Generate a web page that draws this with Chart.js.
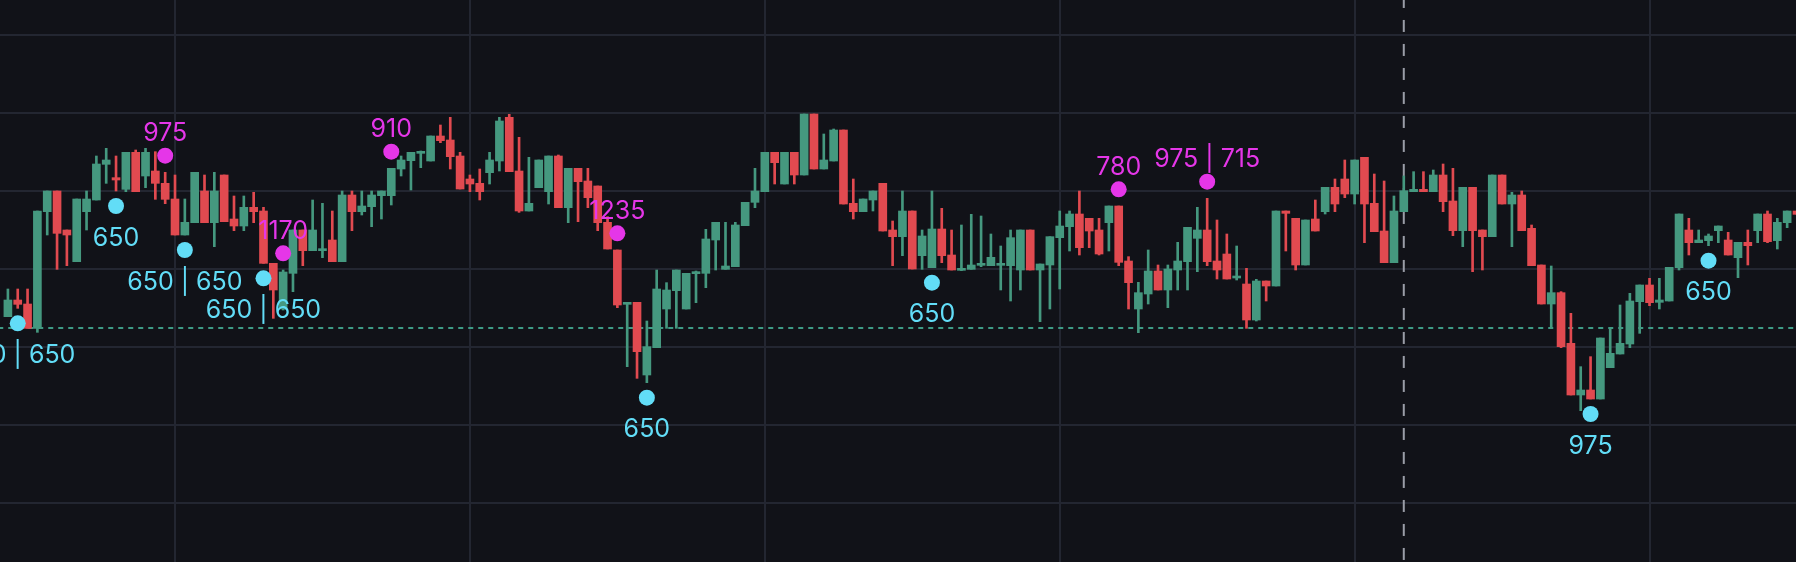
<!DOCTYPE html>
<html>
<head>
<meta charset="utf-8">
<title>Candles</title>
<script src="https://cdn.jsdelivr.net/npm/chart.js@4.4.1/dist/chart.umd.min.js"></script>
<style>
  html, body { margin: 0; padding: 0; background: #111218; overflow: hidden; }
  #wrap { width: 1796px; height: 562px; }
</style>
</head>
<body>
<div id="wrap"><canvas id="chart" width="1796" height="562"></canvas></div>
<script>
// one value per bar, bar 0 is the left edge
const opens = [
  65.0, 70.0, 68.8, 61.5, 96.5, 102.7, 91.0, 81.5, 96.5, 100.0,
  110.7, 106.7, 103.2, 114.3, 107.2, 108.7, 105.0, 100.3, 89.5, 93.2,
  102.7, 93.2, 107.5, 94.3, 92.2, 97.8, 96.7, 81.0, 67.3, 78.0,
  91.0, 84.8, 84.8, 88.0, 81.5, 101.5, 96.5, 98.0, 101.3, 101.3,
  109.3, 111.8, 114.0, 111.7, 119.2, 118.0, 113.2, 106.3, 105.0, 108.2,
  111.7, 124.8, 108.7, 96.7, 103.7, 102.5, 113.2, 97.7, 109.5, 105.7,
  104.2, 93.3, 85.0, 68.7, 69.3, 47.5, 55.7, 67.3, 72.8, 67.3,
  77.9, 78.0, 88.0, 79.2, 80.0, 92.3, 99.3, 102.5, 114.3, 104.8,
  114.3, 107.5, 125.8, 109.3, 111.7, 121.0, 99.0, 96.5, 100.0, 105.0,
  91.0, 89.0, 96.7, 83.3, 79.7, 91.3, 83.5, 78.9, 79.2, 80.4,
  80.3, 80.4, 80.3, 79.0, 91.0, 79.0, 80.5, 88.7, 92.0, 95.8,
  94.5, 91.0, 93.2, 98.2, 81.7, 67.3, 71.8, 78.7, 73.0, 79.0,
  81.5, 88.5, 91.0, 81.7, 83.8, 76.6, 74.8, 64.0, 75.7, 74.2,
  96.7, 94.5, 80.5, 94.3, 96.5, 103.8, 106.3, 101.8, 112.8, 99.0,
  90.7, 81.2, 96.5, 102.5, 103.2, 102.5, 107.5, 99.7, 90.8, 103.8,
  91.0, 89.0, 107.5, 98.8, 101.5, 91.5, 80.5, 68.8, 72.2, 57.0,
  41.5, 43.0, 40.3, 49.7, 53.8, 56.8, 69.5, 74.5, 69.3, 69.7,
  79.7, 91.0, 87.2, 87.8, 90.8, 88.0, 82.7, 87.3, 90.8, 95.8,
  87.8, 93.2, 96.7
];
const highs = [
  73.3, 73.3, 73.3, 96.7, 102.7, 102.7, 91.0, 100.3, 102.7, 113.2,
  115.5, 113.2, 114.3, 115.0, 115.5, 114.5, 108.3, 107.5, 100.3, 108.3,
  107.5, 108.3, 107.5, 101.2, 101.2, 102.3, 97.8, 81.0, 79.0, 91.0,
  91.0, 100.0, 99.0, 96.7, 102.7, 102.7, 102.7, 102.7, 102.7, 109.5,
  113.2, 114.3, 114.7, 119.2, 122.5, 124.8, 114.3, 107.5, 109.3, 114.3,
  124.8, 125.7, 118.8, 112.8, 112.0, 113.2, 113.5, 109.5, 109.5, 109.5,
  104.2, 95.0, 85.0, 69.3, 69.3, 63.7, 79.0, 75.2, 79.0, 78.0,
  78.7, 91.2, 93.3, 93.3, 93.3, 99.3, 109.5, 114.3, 114.3, 114.3,
  114.3, 125.8, 125.8, 119.8, 121.3, 121.0, 106.3, 100.3, 102.7, 105.0,
  93.7, 102.7, 96.7, 91.0, 102.7, 97.5, 91.0, 92.5, 95.7, 95.2,
  89.8, 86.2, 91.0, 91.0, 91.0, 80.8, 89.0, 96.7, 96.7, 102.7,
  94.5, 94.5, 98.2, 98.2, 83.0, 75.3, 85.0, 80.5, 80.5, 87.3,
  91.8, 97.8, 100.5, 94.0, 89.8, 86.2, 79.5, 76.2, 75.7, 96.7,
  96.7, 94.5, 94.0, 100.0, 103.8, 106.3, 112.0, 112.0, 112.8, 107.8,
  105.7, 101.2, 107.2, 108.5, 108.5, 109.0, 110.8, 109.5, 103.8, 103.8,
  91.0, 107.5, 107.5, 102.3, 102.7, 92.5, 80.5, 80.2, 72.5, 66.0,
  50.0, 53.0, 58.6, 61.5, 68.5, 72.0, 74.5, 76.5, 76.5, 79.8,
  95.8, 94.5, 91.0, 89.8, 92.2, 90.3, 87.3, 91.0, 95.8, 96.7,
  94.5, 96.7, 96.7
];
const lows = [
  65.0, 67.5, 61.5, 60.3, 89.5, 79.2, 80.3, 81.5, 91.0, 100.0,
  105.0, 102.7, 102.5, 102.5, 103.7, 100.2, 98.9, 89.5, 89.5, 93.2,
  93.2, 86.0, 93.5, 90.8, 90.8, 93.2, 81.0, 64.5, 67.0, 72.5,
  80.3, 84.8, 82.7, 81.5, 81.5, 90.8, 95.5, 92.0, 94.3, 98.5,
  107.2, 103.0, 109.7, 111.7, 117.2, 109.3, 103.3, 102.5, 100.0, 104.8,
  108.7, 108.5, 96.3, 96.7, 103.7, 98.8, 97.7, 93.2, 93.5, 97.7,
  90.8, 85.3, 67.7, 50.0, 46.5, 45.2, 55.7, 61.5, 61.5, 67.3,
  69.2, 73.7, 79.0, 79.2, 80.0, 92.3, 97.7, 102.5, 104.8, 104.8,
  104.8, 107.5, 109.3, 109.3, 111.7, 98.8, 94.3, 96.5, 96.7, 90.7,
  80.3, 83.3, 79.3, 79.2, 79.7, 81.2, 79.0, 78.8, 79.2, 80.0,
  80.3, 73.0, 69.7, 73.0, 79.0, 63.5, 67.3, 73.3, 84.7, 83.5,
  85.7, 83.5, 84.7, 80.3, 67.3, 60.2, 68.8, 73.0, 67.7, 73.0,
  73.0, 78.5, 80.3, 76.3, 76.3, 76.0, 61.5, 63.7, 69.7, 74.2,
  84.7, 79.0, 80.5, 90.7, 95.8, 96.5, 100.7, 98.8, 87.2, 90.5,
  81.2, 81.2, 96.5, 102.5, 102.5, 102.5, 96.5, 89.3, 86.0, 78.5,
  79.0, 89.0, 98.8, 86.0, 90.8, 80.3, 68.8, 61.5, 55.7, 41.5,
  36.8, 40.3, 40.3, 49.7, 53.8, 55.7, 60.0, 68.3, 67.3, 69.7,
  79.0, 83.5, 87.2, 86.3, 87.2, 83.5, 76.7, 80.5, 87.2, 87.2,
  85.3, 91.7, 95.7
];
const closes = [
  70.0, 68.7, 61.5, 96.7, 102.7, 90.0, 89.5, 100.3, 100.3, 110.8,
  112.0, 106.0, 114.3, 102.5, 114.3, 105.0, 100.2, 89.5, 93.3, 108.3,
  93.2, 102.7, 93.5, 92.2, 97.8, 96.5, 81.0, 73.0, 78.4, 91.0,
  84.8, 91.0, 85.2, 81.5, 101.5, 96.5, 98.2, 101.5, 102.7, 109.5,
  112.0, 114.3, 114.3, 119.2, 117.8, 113.0, 103.3, 104.8, 102.5, 112.0,
  123.7, 108.5, 96.7, 99.0, 112.0, 113.2, 97.7, 109.5, 105.5, 100.7,
  93.2, 85.3, 68.5, 69.3, 54.5, 56.0, 73.3, 73.0, 79.0, 78.0,
  78.2, 88.3, 93.3, 80.2, 92.5, 99.3, 102.7, 114.3, 111.2, 114.3,
  107.5, 125.8, 109.3, 112.0, 121.0, 98.8, 96.5, 100.3, 102.7, 90.7,
  89.0, 96.7, 79.3, 89.2, 91.3, 83.3, 79.0, 79.3, 80.5, 80.6,
  82.8, 80.6, 88.7, 91.0, 79.0, 80.8, 89.0, 92.2, 95.8, 85.7,
  90.7, 83.8, 98.2, 81.3, 75.2, 72.2, 78.7, 73.0, 79.3, 81.7,
  91.8, 91.0, 81.5, 79.0, 76.3, 76.9, 64.0, 75.7, 74.2, 96.7,
  96.0, 80.5, 94.0, 90.7, 103.8, 98.8, 101.8, 112.0, 98.8, 90.5,
  81.2, 96.7, 102.8, 103.2, 102.5, 107.5, 99.5, 90.8, 103.8, 90.8,
  89.0, 107.5, 98.8, 101.5, 90.8, 80.3, 68.8, 72.2, 56.0, 41.5,
  43.0, 40.3, 58.6, 54.0, 57.0, 69.7, 74.5, 69.2, 70.0, 79.8,
  95.8, 87.2, 88.0, 89.2, 92.2, 83.5, 87.3, 86.3, 95.8, 87.5,
  93.3, 96.7, 95.7
];

// signal markers: bar index and text
const sellBars = [16, 28, 39, 62, 113, 122];
const sellTexts = ['975', '1170', '910', '1235', '780', '975 | 715'];
const buyBars = [1, 11, 18, 26, 65, 94, 161, 173];
const buyTexts = ['650 | 650', '650', '650 | 650', '650 | 650', '650', '650', '975', '650'];

// grid and reference lines
const gridPrices = [149.6, 126.2, 102.8, 79.4, 56.0, 32.6, 9.2];
const gridBars = [17, 47, 77, 107, 137, 167];
const lastPrice = 61.6;
const cursorBar = 142;

const UP = '#45987f';
const DOWN = '#e14a50';
const PINK = '#e536e8';
const CYAN = '#62ddf7';
const GRID = '#232631';

const bars = opens.map((_, i) => i);
const candleColors = bars.map(i => closes[i] >= opens[i] ? UP : DOWN);

// axes are hidden, grid drawn from the scales under the candles
const gridLines = {
  id: 'gridLines',
  beforeDatasetsDraw(chart) {
    const { ctx, chartArea: a, scales: { x, y } } = chart;
    ctx.save();
    ctx.strokeStyle = GRID;
    ctx.lineWidth = 2;
    ctx.beginPath();
    gridBars.forEach(b => {
      const px = Math.round(x.getPixelForValue(b));
      ctx.moveTo(px, a.top);
      ctx.lineTo(px, a.bottom);
    });
    gridPrices.forEach(p => {
      const py = Math.round(y.getPixelForValue(p));
      ctx.moveTo(a.left, py);
      ctx.lineTo(a.right, py);
    });
    ctx.stroke();
    ctx.restore();
  }
};

const signalLabels = {
  id: 'signalLabels',
  afterDatasetsDraw(chart) {
    const { ctx, scales: { x, y } } = chart;
    ctx.save();
    ctx.font = '25px Inter, "Noto Sans", sans-serif';
    ctx.textAlign = 'center';
    ctx.textBaseline = 'alphabetic';
    ctx.fillStyle = PINK;
    sellBars.forEach((b, k) => {
      ctx.fillText(sellTexts[k], x.getPixelForValue(b), y.getPixelForValue(highs[b] + 5) - 14.5);
    });
    ctx.fillStyle = CYAN;
    buyBars.forEach((b, k) => {
      ctx.fillText(buyTexts[k], x.getPixelForValue(b), y.getPixelForValue(lows[b] - 4.5) + 39.5);
    });
    ctx.restore();
  }
};

new Chart(document.getElementById('chart'), {
  type: 'bar',
  data: {
    datasets: [
      {
        type: 'line',
        data: sellBars.map(b => ({ x: b, y: highs[b] + 5 })),
        showLine: false,
        pointRadius: 8,
        pointBackgroundColor: PINK,
        pointBorderWidth: 0,
        order: 0
      },
      {
        type: 'line',
        data: buyBars.map(b => ({ x: b, y: lows[b] - 4.5 })),
        showLine: false,
        pointRadius: 8,
        pointBackgroundColor: CYAN,
        pointBorderWidth: 0,
        order: 0
      },
      {
        // candle bodies
        data: bars.map(i => ({ x: i, y: [opens[i], closes[i]] })),
        backgroundColor: candleColors,
        barThickness: 8,
        minBarLength: 2,
        grouped: false,
        borderWidth: 0,
        order: 1
      },
      {
        // wicks
        data: bars.map(i => ({ x: i, y: [lows[i], highs[i]] })),
        backgroundColor: candleColors,
        barThickness: 2,
        grouped: false,
        borderWidth: 0,
        order: 2
      },
      {
        type: 'line',
        data: [{ x: -2, y: lastPrice }, { x: 184, y: lastPrice }],
        borderColor: '#3d9a85',
        borderWidth: 2,
        borderDash: [5, 5],
        pointRadius: 0,
        order: 3
      },
      {
        type: 'line',
        data: [{ x: cursorBar, y: 170 }, { x: cursorBar, y: -20 }],
        borderColor: '#9a9da7',
        borderWidth: 2,
        borderDash: [12, 12],
        borderDashOffset: 18.7,
        pointRadius: 0,
        order: 3
      }
    ]
  },
  options: {
    responsive: false,
    animation: false,
    layout: { padding: 0, autoPadding: false },
    plugins: { legend: { display: false }, tooltip: { enabled: false } },
    scales: {
      x: { type: 'linear', display: false, min: -0.804, max: 181.9, offset: false },
      y: { display: false, min: -8.6, max: 160 }
    }
  },
  plugins: [gridLines, signalLabels]
});
</script>
</body>
</html>
